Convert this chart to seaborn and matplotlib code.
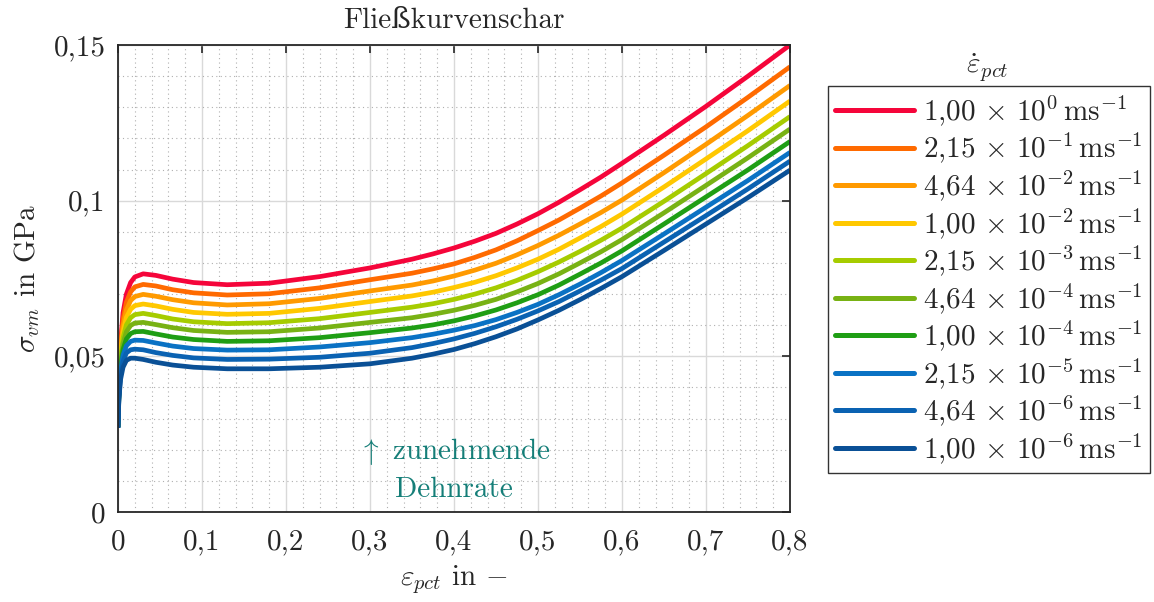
import numpy as np
import pandas as pd
import matplotlib
matplotlib.use("Agg")
import matplotlib.pyplot as plt
import seaborn as sns
from matplotlib.ticker import MultipleLocator

# ---------------- data ----------------
strain = [0, 0.001, 0.003, 0.006, 0.01, 0.015, 0.02, 0.03, 0.045, 0.065, 0.09, 0.13,
          0.18, 0.24, 0.3, 0.35, 0.375, 0.4, 0.425, 0.45, 0.475, 0.5, 0.525, 0.55,
          0.575, 0.6, 0.65, 0.7, 0.75, 0.8]

rate_labels = [
    r"$1{,}00\,\times\,10^{0}\,\mathrm{ms}^{-1}$",
    r"$2{,}15\,\times\,10^{-1}\,\mathrm{ms}^{-1}$",
    r"$4{,}64\,\times\,10^{-2}\,\mathrm{ms}^{-1}$",
    r"$1{,}00\,\times\,10^{-2}\,\mathrm{ms}^{-1}$",
    r"$2{,}15\,\times\,10^{-3}\,\mathrm{ms}^{-1}$",
    r"$4{,}64\,\times\,10^{-4}\,\mathrm{ms}^{-1}$",
    r"$1{,}00\,\times\,10^{-4}\,\mathrm{ms}^{-1}$",
    r"$2{,}15\,\times\,10^{-5}\,\mathrm{ms}^{-1}$",
    r"$4{,}64\,\times\,10^{-6}\,\mathrm{ms}^{-1}$",
    r"$1{,}00\,\times\,10^{-6}\,\mathrm{ms}^{-1}$",
]

s_rate0 = [0.0275, 0.0400, 0.0540, 0.0640, 0.0700, 0.0737, 0.0755, 0.0765, 0.0760, 0.0748,
           0.0737, 0.0730, 0.0735, 0.0756, 0.0784, 0.0812, 0.0829, 0.0848, 0.0870, 0.0895,
           0.0925, 0.0958, 0.0995, 0.1035, 0.1076, 0.1120, 0.1210, 0.1303, 0.1400, 0.1500]
s_rate1 = [0.0275, 0.0395, 0.0526, 0.0619, 0.0674, 0.0707, 0.0723, 0.0731, 0.0726, 0.0714,
           0.0704, 0.0697, 0.0701, 0.0720, 0.0746, 0.0767, 0.0781, 0.0797, 0.0818, 0.0842,
           0.0871, 0.0904, 0.0938, 0.0976, 0.1015, 0.1057, 0.1146, 0.1237, 0.1332, 0.1430]
s_rate2 = [0.0274, 0.0390, 0.0512, 0.0598, 0.0649, 0.0679, 0.0692, 0.0699, 0.0693, 0.0682,
           0.0672, 0.0665, 0.0669, 0.0686, 0.0710, 0.0729, 0.0742, 0.0758, 0.0777, 0.0799,
           0.0826, 0.0856, 0.0889, 0.0925, 0.0962, 0.1002, 0.1090, 0.1181, 0.1274, 0.1370]
s_rate3 = [0.0274, 0.0386, 0.0500, 0.0578, 0.0625, 0.0651, 0.0663, 0.0668, 0.0662, 0.0651,
           0.0641, 0.0635, 0.0638, 0.0654, 0.0676, 0.0694, 0.0706, 0.0721, 0.0738, 0.0759,
           0.0784, 0.0812, 0.0844, 0.0880, 0.0917, 0.0957, 0.1044, 0.1134, 0.1225, 0.1320]
s_rate4 = [0.0273, 0.0381, 0.0487, 0.0559, 0.0601, 0.0624, 0.0634, 0.0638, 0.0631, 0.0620,
           0.0611, 0.0605, 0.0608, 0.0621, 0.0641, 0.0658, 0.0669, 0.0683, 0.0700, 0.0720,
           0.0744, 0.0772, 0.0803, 0.0837, 0.0873, 0.0912, 0.0998, 0.1087, 0.1177, 0.1270]
s_rate5 = [0.0273, 0.0377, 0.0475, 0.0541, 0.0579, 0.0599, 0.0607, 0.0609, 0.0602, 0.0592,
           0.0583, 0.0577, 0.0579, 0.0591, 0.0609, 0.0624, 0.0635, 0.0648, 0.0664, 0.0683,
           0.0707, 0.0734, 0.0765, 0.0800, 0.0836, 0.0875, 0.0961, 0.1049, 0.1138, 0.1230]
s_rate6 = [0.0272, 0.0373, 0.0462, 0.0522, 0.0556, 0.0573, 0.0579, 0.0580, 0.0572, 0.0562,
           0.0554, 0.0548, 0.0550, 0.0560, 0.0576, 0.0591, 0.0601, 0.0614, 0.0630, 0.0649,
           0.0672, 0.0698, 0.0729, 0.0764, 0.0800, 0.0839, 0.0925, 0.1012, 0.1099, 0.1190]
s_rate7 = [0.0272, 0.0369, 0.0451, 0.0504, 0.0534, 0.0548, 0.0552, 0.0551, 0.0543, 0.0533,
           0.0525, 0.0520, 0.0521, 0.0530, 0.0544, 0.0560, 0.0571, 0.0584, 0.0599, 0.0618,
           0.0641, 0.0667, 0.0698, 0.0732, 0.0769, 0.0808, 0.0893, 0.0979, 0.1065, 0.1155]
s_rate8 = [0.0271, 0.0364, 0.0438, 0.0484, 0.0511, 0.0521, 0.0523, 0.0521, 0.0512, 0.0503,
           0.0495, 0.0490, 0.0491, 0.0497, 0.0510, 0.0528, 0.0541, 0.0556, 0.0574, 0.0595,
           0.0619, 0.0646, 0.0676, 0.0710, 0.0745, 0.0782, 0.0867, 0.0952, 0.1038, 0.1127]
s_rate9 = [0.0270, 0.0360, 0.0425, 0.0465, 0.0487, 0.0494, 0.0494, 0.0490, 0.0481, 0.0472,
           0.0465, 0.0460, 0.0460, 0.0465, 0.0476, 0.0494, 0.0507, 0.0522, 0.0541, 0.0563,
           0.0588, 0.0617, 0.0648, 0.0682, 0.0718, 0.0756, 0.0840, 0.0925, 0.1010, 0.1098]

series = [s_rate0, s_rate1, s_rate2, s_rate3, s_rate4,
          s_rate5, s_rate6, s_rate7, s_rate8, s_rate9]

colors = ["#F5053A", "#FF6A00", "#FF9A00", "#FFC800", "#A6CC00",
          "#78B214", "#1F9E14", "#0A72C4", "#0A62B2", "#0A5096"]

x_ticks = [0, 0.1, 0.2, 0.3, 0.4, 0.5, 0.6, 0.7, 0.8]
x_ticklabels = ["0", "0,1", "0,2", "0,3", "0,4", "0,5", "0,6", "0,7", "0,8"]
y_ticks = [0, 0.05, 0.1, 0.15]
y_ticklabels = ["0", "0,05", "0,1", "0,15"]

# ---------------- style ----------------
sns.set_theme(style="white")
plt.rcParams["font.family"] = ["cmr10", "DejaVu Serif"]
plt.rcParams["mathtext.fontset"] = "cm"
plt.rcParams["axes.unicode_minus"] = False
plt.rcParams["axes.formatter.use_mathtext"] = True

FS = 21

rows = []
for lab, ys in zip(rate_labels, series):
    for xv, yv in zip(strain, ys):
        rows.append({"strain": xv, "stress": yv, "rate": lab})
df = pd.DataFrame(rows)

fig = plt.figure(figsize=(11.54, 6.02), dpi=100)
ax = fig.add_axes([118 / 1154, 1 - 512 / 602, (790 - 118) / 1154, (512 - 45) / 602])

sns.lineplot(data=df, x="strain", y="stress", hue="rate", hue_order=rate_labels,
             palette=colors, linewidth=3.4, ax=ax, legend=False, sort=True,
             estimator=None, solid_joinstyle="round", solid_capstyle="butt")

ax.set_xlim(0, 0.8)
ax.set_ylim(0, 0.15)
ax.set_xticks(x_ticks)
ax.set_xticklabels(x_ticklabels, fontsize=FS)
ax.set_yticks(y_ticks)
ax.set_yticklabels(y_ticklabels, fontsize=FS)
ax.xaxis.set_minor_locator(MultipleLocator(0.02))
ax.yaxis.set_minor_locator(MultipleLocator(0.01))
ax.grid(which="major", color="#d9d9d9", linewidth=1.0, linestyle="-")
ax.grid(which="minor", color="#b0b0b0", linewidth=0.8, linestyle=(0, (1, 3)))
ax.set_axisbelow(True)
ax.tick_params(which="major", direction="in", length=6, width=1.2, top=True, right=True,
               color="#262626")
ax.tick_params(axis="x", which="major", pad=12)
ax.tick_params(axis="y", which="major", pad=9)
ax.tick_params(which="minor", length=0)
for sp in ax.spines.values():
    sp.set_color("#262626")
    sp.set_linewidth(1.3)

ax.set_xlabel(r"$\varepsilon_{pct}$ in $-$", fontsize=FS, labelpad=6)
ax.set_ylabel(r"$\sigma_{vm}$ in GPa", fontsize=FS, labelpad=8)
ax.set_title("Fließkurvenschar", fontsize=FS, pad=12)

ax.text(0.4, 0.0193, r"$\uparrow$ zunehmende", color="#157E78", fontsize=FS,
        ha="center", va="center")
ax.text(0.4, 0.0071, "Dehnrate", color="#157E78", fontsize=FS,
        ha="center", va="center")

handles = [plt.Line2D([], [], color=c, linewidth=3.6) for c in colors]
leg = fig.legend(handles, rate_labels, loc="upper left",
                 bbox_to_anchor=(828 / 1154, 1 - 86 / 602), fontsize=FS,
                 frameon=True, fancybox=False, handlelength=2.7, handletextpad=0.3,
                 labelspacing=0.1, borderpad=0.25, borderaxespad=0)
leg.get_frame().set_edgecolor("black")
leg.get_frame().set_linewidth(1.0)
fig.text(987 / 1154, 1 - 68 / 602, r"$\dot{\varepsilon}_{pct}$", fontsize=FS,
         ha="center", va="center")

fig.savefig("out.png", dpi=100)
